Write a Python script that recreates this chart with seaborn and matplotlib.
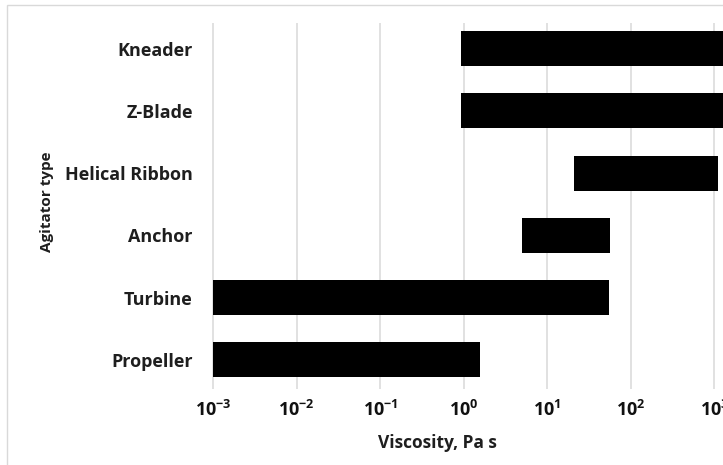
import numpy as np
import pandas as pd
import matplotlib
matplotlib.use("Agg")
import matplotlib.pyplot as plt
from matplotlib.patches import Rectangle
from matplotlib.ticker import NullLocator
import seaborn as sns

# Typical operating viscosity range of each agitator (Pa s)
agitators = ["Kneader", "Z-Blade", "Helical Ribbon", "Anchor", "Turbine", "Propeller"]
visc_min = [0.92, 0.92, 21.0, 5.0, 0.001, 0.001]
visc_max = [5000.0, 5000.0, 1120.0, 57.0, 55.0, 1.57]
decade_exponents = [-3, -2, -1, 0, 1, 2, 3]

sns.set_theme(style="white")
plt.rcParams["font.family"] = ["Open Sans", "DejaVu Sans"]
plt.rcParams["mathtext.fontset"] = "custom"
plt.rcParams["mathtext.rm"] = "Open Sans:bold"
plt.rcParams["mathtext.bf"] = "Open Sans:bold"
plt.rcParams["mathtext.it"] = "Open Sans:bold"

df = pd.DataFrame({"agitator": agitators, "low": visc_min, "high": visc_max})
df["span"] = df["high"] - df["low"]

fig = plt.figure(figsize=(7.23, 4.65), dpi=100)
ax = fig.add_axes([0.29156, 0.16344, 0.70844, 0.78774])

# Floating bars: each bar starts at the lower limit and spans to the upper limit
sns.barplot(
    data=df, x="span", y="agitator", order=agitators, orient="y",
    left=df["low"].to_numpy(), color="black", saturation=1, width=0.56,
    errorbar=None, edgecolor="none", linewidth=0, ax=ax,
)

ax.set_xscale("log")
ax.set_xlim(10 ** -3.03, 10 ** 3.104)
ax.set_ylim(5.471, -0.418)
ax.set_xticks([10.0 ** e for e in decade_exponents])
ax.set_xticklabels([rf"$\mathbf{{10^{{{e}}}}}$" for e in decade_exponents])
ax.xaxis.set_minor_locator(NullLocator())
ax.tick_params(axis="x", length=0, pad=8, labelsize=13, labelcolor="#111111")
ax.tick_params(axis="y", length=0, pad=13, labelsize=13, labelcolor="#1e1e1e")
for lab in ax.get_yticklabels():
    lab.set_fontweight("bold")
ax.grid(axis="x", color="#d9d9d9", linewidth=1.1)
ax.grid(axis="y", visible=False)
ax.set_axisbelow(True)
for sp in ax.spines.values():
    sp.set_visible(False)
ax.set_xlabel("")
ax.set_ylabel("")

fig.text(437 / 723, 1 - 443 / 465, "Viscosity, Pa s", ha="center", va="center",
         fontsize=12.5, fontweight="bold", color="#1e1e1e")
fig.text(47 / 723, 1 - 202 / 465, "Agitator type", ha="center", va="center",
         rotation=90, fontsize=11, fontweight="bold", color="#1e1e1e")

# Light chart-area frame
fig.patches.append(Rectangle((7 / 723, -0.1), 2.0, 460 / 465 + 0.1,
                             transform=fig.transFigure, fill=False,
                             edgecolor="#d9d9d9", linewidth=1.0))

fig.savefig("out.png", dpi=100)
